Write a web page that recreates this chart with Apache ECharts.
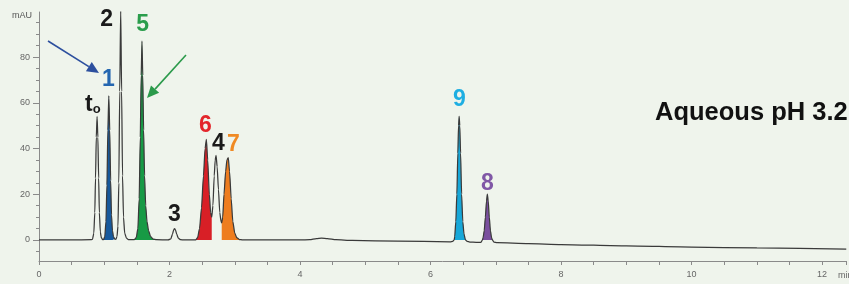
<!DOCTYPE html>
<html>
<head>
<meta charset="utf-8">
<script src="https://cdn.jsdelivr.net/npm/echarts@6/dist/echarts.min.js"></script>
<style>
html,body{margin:0;padding:0;background:#eff4ec;}
#c{width:849px;height:284px;}
</style>
</head>
<body>
<div id="c"></div>
<script>
// ---- data (time in min, signal in mAU) ----
const xTickLabels = [0, 2, 4, 6, 8, 10, 12];
const yTickLabels = [0, 20, 40, 60, 80];
const yMinorTicks = [-5, 5, 10, 15, 25, 30, 35, 45, 50, 55, 65, 70, 75, 85, 90, 95];

const lead = [[0,0],[0.5,0],[0.8,0.1]];
const peakT0 = [[0.82,0.3],[0.84,3],[0.855,12],[0.866,27],[0.878,45],[0.89,54],[0.902,45],[0.914,27],[0.925,12],[0.94,3.5],[0.955,1],[0.975,0.2]];
const peak1 = [[0.99,0.2],[1.008,1.5],[1.026,8],[1.041,24],[1.055,48],[1.07,63],[1.084,48],[1.098,26],[1.111,11],[1.126,4],[1.141,1.5],[1.16,0.4]];
const peak2 = [[1.18,0.3],[1.195,1.5],[1.21,6],[1.223,25],[1.237,65],[1.252,101],[1.266,65],[1.28,28],[1.295,10],[1.313,3],[1.34,0.8],[1.37,0.1]];
const peak5 = [[1.46,0.1],[1.49,1],[1.515,5],[1.535,18],[1.552,45],[1.566,72],[1.578,87],[1.59,72],[1.603,48],[1.618,28],[1.635,15],[1.655,8],[1.68,4],[1.71,1.5],[1.75,0.4],[1.8,0.1]];
const peak3 = [[1.98,0],[2.02,0.5],[2.045,2.5],[2.065,4.5],[2.077,5],[2.09,4.5],[2.11,2.5],[2.135,0.8],[2.17,0.1],[2.22,0]];
const peak6 = [[2.4,0],[2.43,1],[2.46,5],[2.49,14],[2.52,28],[2.545,40],[2.565,44],[2.585,35],[2.61,20],[2.63,12],[2.647,10]];
const peak4 = [[2.665,15],[2.685,28],[2.7,35],[2.713,37],[2.73,32],[2.75,22],[2.77,12],[2.79,8]];
const peak7 = [[2.8,7.5],[2.815,10],[2.835,20],[2.86,30],[2.88,35],[2.9,36],[2.92,30],[2.945,18],[2.97,8],[3.0,3],[3.03,1],[3.07,0.2],[3.12,0]];
const middle = [[3.2,0],[4.0,0],[4.15,0.15],[4.25,0.6],[4.33,0.8],[4.42,0.6],[4.55,0.1],[4.8,-0.2],[5.5,-0.5],[6.3,-0.8],[6.34,-0.6]];
const peak9 = [[6.362,0],[6.37,1.5],[6.387,8],[6.403,20],[6.418,38],[6.429,50],[6.438,54],[6.448,50],[6.46,38],[6.476,20],[6.494,8],[6.513,2.5],[6.535,0]];
const gap98 = [[6.56,-0.6],[6.6,-0.9],[6.7,-1.0],[6.77,-1.1]];
const peak8 = [[6.795,0],[6.805,1],[6.822,4],[6.84,10],[6.857,17],[6.87,20],[6.884,17],[6.9,10],[6.918,4],[6.935,1],[6.948,0]];
const tail = [[6.97,-0.9],[7.02,-1.2],[7.5,-1.6],[8,-2.0],[9,-2.6],[10,-3.1],[11,-3.5],[12.37,-4.0]];

// peak labels: [time, mAU, text, colour]
const peakLabels = [
  [0.824, 59.0, 't0', '#1a1a1a'],
  [1.062, 69.9, '1', '#2466b0'],
  [1.038, 96.2, '2', '#1a1a1a'],
  [1.588, 94.0, '5', '#2a9d4c'],
  [2.076, 10.9, '3', '#1a1a1a'],
  [2.55, 49.8, '6', '#e3262b'],
  [2.748, 42.0, '4', '#1a1a1a'],
  [2.977, 41.5, '7', '#f08a24'],
  [6.443, 61.2, '9', '#1eaee2'],
  [6.87, 24.5, '8', '#8057a6']
];

const trace = [].concat(lead, peakT0, peak1, peak2, peak5, peak3, peak6, peak4, peak7, middle, peak9, gap98, peak8, tail);

const fills = [
  {data: peak1, color: '#17599c'},
  {data: peak5, color: '#179a45'},
  {data: peak6, color: '#d81f26'},
  {data: peak7, color: '#ee7d1f'},
  {data: peak9, color: '#17a7d8'},
  {data: peak8, color: '#7a4f9e'}
];

const chart = echarts.init(document.getElementById('c'), null, {renderer: 'canvas'});

const SM = 0.2;
const FONT = 'Liberation Sans';
const series = fills.map(f => ({
  type: 'line', data: f.data, smooth: SM, smoothMonotone: 'x', symbol: 'none',
  lineStyle: {width: 0, color: f.color}, areaStyle: {color: f.color, opacity: 1, origin: 'auto'},
  z: 2, silent: true
}));
series.push({
  type: 'line', data: trace, smooth: SM, smoothMonotone: 'x', symbol: 'none',
  lineStyle: {width: 1.25, color: '#3a3a3a'}, z: 3, silent: true
});
series.push({
  type: 'scatter', symbolSize: 0, z: 5, silent: true,
  itemStyle: {opacity: 1},
  data: peakLabels.map(d => ({
    value: d,
    label: {
      show: true, position: 'inside', opacity: 1,
      formatter: d[2] === 't0' ? '{t|t}{o|o}' : '{n|' + d[2] + '}',
      rich: {
        t: {fontSize: 23, fontWeight: 'bold', fontFamily: FONT, color: d[3]},
        o: {fontSize: 13, fontWeight: 'bold', fontFamily: FONT, color: d[3], padding: [9, 0, 0, 0]},
        n: {fontSize: 23, fontWeight: 'bold', fontFamily: FONT, color: d[3]}
      }
    }
  }))
});

function arrow(x1, y1, x2, y2, color) {
  const ang = Math.atan2(y2 - y1, x2 - x1);
  const L = 12, W = 5.5;
  const bx = x2 - L * Math.cos(ang), by = y2 - L * Math.sin(ang);
  const px = -Math.sin(ang) * W, py = Math.cos(ang) * W;
  return [
    {type: 'line', shape: {x1: x1, y1: y1, x2: bx, y2: by}, style: {stroke: color, lineWidth: 1.6}, z: 10},
    {type: 'polygon', shape: {points: [[x2, y2], [bx + px, by + py], [bx - px, by - py]]}, style: {fill: color}, z: 10}
  ];
}

const yAxisBase = {type: 'value', min: -9.2, max: 99.7, position: 'left', splitLine: {show: false}};

chart.setOption({
  backgroundColor: '#eff4ec',
  animation: false,
  grid: {left: 39, right: 0, top: 12, bottom: 23},
  xAxis: {
    type: 'value', min: 0, max: 12.366, interval: 0.5,
    axisLine: {show: true, onZero: false, lineStyle: {color: '#8a8a8a', width: 1}},
    axisTick: {show: true, length: 4, lineStyle: {color: '#8a8a8a'}},
    axisLabel: {
      color: '#666', fontSize: 9, fontFamily: FONT, margin: 9,
      formatter: v => (xTickLabels.indexOf(v) >= 0 ? String(v) : '')
    },
    splitLine: {show: false}
  },
  yAxis: [
    Object.assign({}, yAxisBase, {
      name: 'mAU', nameLocation: 'end', nameGap: -4,
      nameTextStyle: {color: '#555', fontSize: 9, fontFamily: FONT, align: 'right', verticalAlign: 'middle', padding: [0, 7, 0, 0]},
      axisLine: {show: true, lineStyle: {color: '#8a8a8a', width: 1}},
      axisTick: {show: true, length: 6, customValues: yTickLabels, lineStyle: {color: '#8a8a8a'}},
      axisLabel: {customValues: yTickLabels, color: '#666', fontSize: 9, fontFamily: FONT, margin: 9}
    }),
    Object.assign({}, yAxisBase, {
      axisLine: {show: false},
      axisTick: {show: true, length: 3, customValues: yMinorTicks, lineStyle: {color: '#8a8a8a'}},
      axisLabel: {show: false}
    })
  ],
  series: series,
  graphic: [].concat(
    arrow(48, 41, 99, 73, '#2c4f9e'),
    arrow(186, 55, 147, 98, '#2b9a4b'),
    [{type: 'text', left: 655, top: 100, z: 10,
      style: {text: 'Aqueous pH 3.2', fontSize: 25.5, fontWeight: 'bold', fontFamily: FONT, fill: '#111'}},
     {type: 'text', left: 838, top: 271, z: 10,
      style: {text: 'min', fontSize: 9, fontFamily: FONT, fill: '#666'}}]
  )
});
</script>
</body>
</html>
